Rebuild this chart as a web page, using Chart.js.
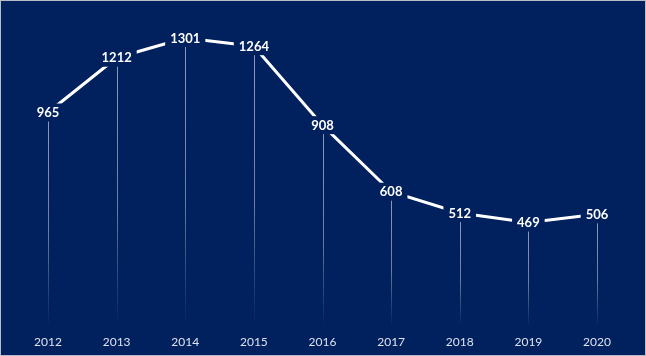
<!DOCTYPE html>
<html>
<head>
<meta charset="utf-8">
<script src="https://cdn.jsdelivr.net/npm/chart.js@4.4.1/dist/chart.umd.min.js"></script>
<style>
  html, body { margin: 0; padding: 0; background: #ffffff; }
  #wrap { width: 646px; height: 356px; box-sizing: border-box; border: 1px solid #b9bcc4; background: #00205E; }
  canvas { display: block; }
</style>
</head>
<body>
<div id="wrap"><canvas id="c" width="644" height="354"></canvas></div>
<script>
const categories = ['2012', '2013', '2014', '2015', '2016', '2017', '2018', '2019', '2020'];
const seriesValues = [965, 1212, 1301, 1264, 908, 608, 512, 469, 506];
const BG = '#00205E';

const pointDecor = {
  id: 'pointDecor',
  beforeDatasetsDraw(chart) {
    const ctx = chart.ctx;
    const meta = chart.getDatasetMeta(0);
    const bottom = chart.chartArea.bottom;
    ctx.save();
    meta.data.forEach(pt => {
      const x = Math.round(pt.x) + 0.5;
      const y0 = pt.y + 8;
      const g = ctx.createLinearGradient(0, y0, 0, bottom);
      g.addColorStop(0, 'rgba(255,255,255,0.55)');
      g.addColorStop(0.55, 'rgba(255,255,255,0.42)');
      g.addColorStop(1, 'rgba(255,255,255,0)');
      ctx.strokeStyle = g;
      ctx.lineWidth = 1;
      ctx.beginPath();
      ctx.moveTo(x, y0);
      ctx.lineTo(x, bottom);
      ctx.stroke();
    });
    ctx.restore();
  },
  afterDatasetsDraw(chart) {
    const ctx = chart.ctx;
    const meta = chart.getDatasetMeta(0);
    const data = chart.data.datasets[0].data;
    ctx.save();
    ctx.font = 'bold 13px Lato';
    ctx.textAlign = 'center';
    ctx.textBaseline = 'middle';
    meta.data.forEach((pt, i) => {
      const txt = String(data[i]);
      const w = ctx.measureText(txt).width;
      ctx.fillStyle = BG;
      ctx.fillRect(pt.x - w / 2 - 5, pt.y - 9, w + 10, 18);
      ctx.fillStyle = '#ffffff';
      ctx.fillText(txt, pt.x, pt.y + 0.5);
    });
    ctx.restore();
  }
};

Chart.defaults.font.family = 'Lato';

new Chart(document.getElementById('c'), {
  type: 'line',
  data: {
    labels: categories,
    datasets: [{
      data: seriesValues,
      borderColor: '#ffffff',
      borderWidth: 3,
      pointRadius: 0,
      tension: 0,
      fill: false
    }]
  },
  options: {
    responsive: false,
    animation: false,
    devicePixelRatio: 1,
    layout: { padding: { left: 47, right: 48, top: 15, bottom: -2 } },
    plugins: { legend: { display: false }, tooltip: { enabled: false } },
    scales: {
      x: {
        offset: false,
        grid: { display: false, drawTicks: false, tickLength: 0 },
        border: { display: false },
        ticks: { color: '#dde2ee', font: { size: 12 }, padding: 8, maxRotation: 0 }
      },
      y: { display: false, min: 0, max: 1400 }
    }
  },
  plugins: [pointDecor]
});
</script>
</body>
</html>
